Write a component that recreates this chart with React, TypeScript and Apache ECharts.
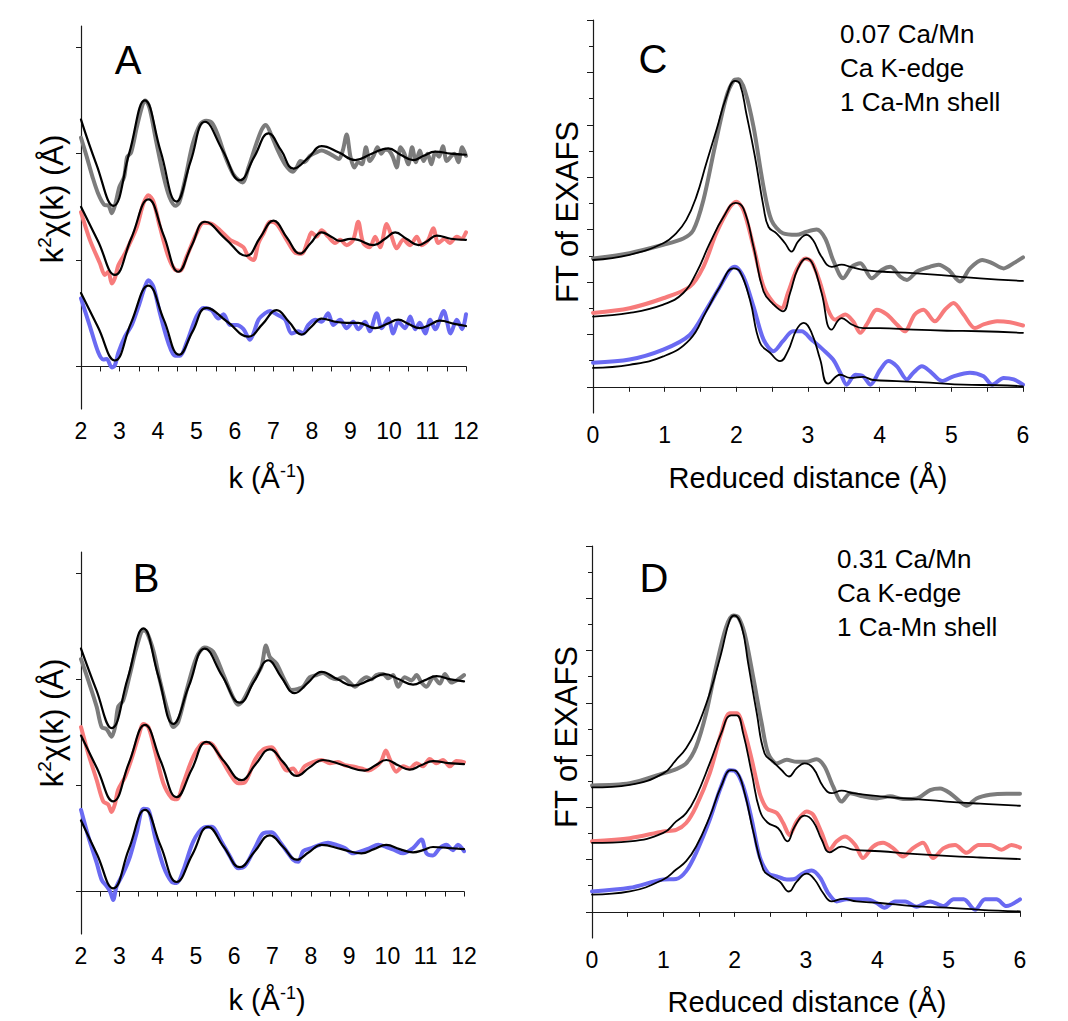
import React, { useEffect, useRef } from "react";
import * as echarts from "echarts";

// ---------- tick values ----------
const kTicks = [2, 2.5, 3, 3.5, 4, 4.5, 5, 5.5, 6, 6.5, 7, 7.5, 8, 8.5, 9, 9.5, 10, 10.5, 11, 11.5, 12];
const kLabels = [2, 3, 4, 5, 6, 7, 8, 9, 10, 11, 12];
const chiTicks = [0, 10, 20, 30];
const rTicks = [0, 0.5, 1, 1.5, 2, 2.5, 3, 3.5, 4, 4.5, 5, 5.5, 6];
const rLabels = [0, 1, 2, 3, 4, 5, 6];
const ftMajor = [0, 10, 20, 30, 40, 50, 60, 70];
const ftMinor = [5, 15, 25, 35, 45, 55, 65];

// ---------- Panel A (0.07 Ca/Mn, k-space) ----------
const aGrayData = [[2.0,21.5],[2.15,19.7],[2.3,17.8],[2.45,16.2],[2.6,15.2],[2.72,15.1],[2.8,14.4],[2.88,15.1],[3.0,16.9],[3.12,17.8],[3.2,19.7],[3.3,20.1],[3.45,22.5],[3.6,24.6],[3.67,25.0],[3.78,24.3],[3.95,21.2],[4.15,17.8],[4.3,15.9],[4.45,15.1],[4.55,15.4],[4.7,17.5],[4.9,20.9],[5.1,22.8],[5.25,23.1],[5.4,22.9],[5.55,21.8],[5.75,19.7],[5.95,18.1],[6.1,17.5],[6.2,17.3],[6.35,18.7],[6.55,20.9],[6.7,22.3],[6.8,22.7],[6.95,21.7],[7.1,20.4],[7.3,19.0],[7.5,18.3],[7.6,18.7],[7.7,19.3],[7.8,19.2],[7.95,19.8],[8.1,20.1],[8.25,20.3],[8.4,20.1],[8.55,19.8],[8.7,19.5],[8.8,20.3],[8.9,21.8],[9.0,19.7],[9.1,18.7],[9.2,19.2],[9.3,19.0],[9.4,20.6],[9.5,19.3],[9.6,19.8],[9.7,20.6],[9.8,20.0],[9.9,20.4],[10.0,20.3],[10.1,19.7],[10.2,18.7],[10.3,20.6],[10.4,20.0],[10.5,19.0],[10.6,20.6],[10.7,19.2],[10.8,20.3],[10.9,19.3],[11.0,20.0],[11.1,19.0],[11.2,20.1],[11.3,19.7],[11.4,20.7],[11.5,19.3],[11.6,19.7],[11.7,20.0],[11.8,19.2],[11.9,20.6],[12.0,19.8]];
const aGrayFit = [[2.0,23.2],[2.4,19.0],[2.84,15.1],[3.25,20.0],[3.66,25.0],[4.07,20.2],[4.48,15.5],[4.85,19.3],[5.22,23.0],[5.68,20.3],[6.13,17.5],[6.5,19.7],[6.87,21.9],[7.2,20.3],[7.52,18.6],[7.9,19.6],[8.25,20.7],[8.7,20.1],[9.12,19.4],[9.55,20.0],[9.98,20.5],[10.3,19.9],[10.63,19.4],[10.9,19.8],[11.2,20.2],[11.6,20.0],[12.0,19.9]];
const aRedData = [[2.0,14.5],[2.23,11.9],[2.49,9.7],[2.62,8.6],[2.71,8.9],[2.8,7.8],[2.88,8.3],[2.97,9.5],[3.14,10.6],[3.27,11.6],[3.45,13.1],[3.62,15.3],[3.75,16.1],[3.88,15.5],[4.05,13.1],[4.27,10.3],[4.44,9.1],[4.57,9.0],[4.74,10.3],[5.0,12.5],[5.18,13.5],[5.39,13.4],[5.61,12.8],[5.87,11.9],[6.04,11.6],[6.22,11.2],[6.35,10.3],[6.48,10.0],[6.61,11.6],[6.74,12.5],[6.91,13.6],[7.08,13.4],[7.34,11.9],[7.56,10.7],[7.73,10.6],[7.9,11.9],[7.99,12.6],[8.12,12.2],[8.25,12.8],[8.42,12.2],[8.6,11.6],[8.73,11.9],[8.9,11.4],[9.07,11.9],[9.2,13.6],[9.33,11.6],[9.5,11.2],[9.64,12.2],[9.77,11.2],[9.94,13.4],[10.07,12.2],[10.2,11.1],[10.37,11.9],[10.55,11.4],[10.72,12.2],[10.85,11.4],[11.02,11.9],[11.15,13.0],[11.28,11.6],[11.45,12.0],[11.58,11.6],[11.76,12.2],[11.88,12.0],[12.0,12.6]];
const aRedFit = [[2.0,15.0],[2.44,11.8],[2.88,8.6],[3.3,12.0],[3.75,15.7],[4.15,12.3],[4.53,8.9],[4.88,11.4],[5.22,13.6],[5.75,12.0],[6.3,10.4],[6.65,12.1],[7.0,13.7],[7.35,12.1],[7.69,10.6],[7.97,11.6],[8.25,12.6],[8.5,12.2],[8.73,11.8],[9.0,12.0],[9.2,11.9],[9.6,11.4],[9.9,12.0],[10.16,12.6],[10.45,12.0],[10.77,11.4],[11.0,11.8],[11.24,12.3],[11.6,12.0],[12.0,11.9]];
const aBlueData = [[2.0,6.4],[2.23,3.8],[2.45,1.3],[2.58,0.65],[2.67,0.7],[2.8,-0.1],[2.88,0.1],[2.97,1.3],[3.14,2.8],[3.32,3.9],[3.49,5.6],[3.66,7.5],[3.75,8.1],[3.88,7.5],[4.05,5.0],[4.27,2.2],[4.44,1.0],[4.57,1.0],[4.74,2.2],[5.0,4.7],[5.18,5.5],[5.39,5.3],[5.57,4.5],[5.7,4.9],[5.87,3.9],[6.04,3.9],[6.22,3.5],[6.39,2.5],[6.48,3.1],[6.61,4.4],[6.78,5.0],[6.91,5.2],[7.08,4.9],[7.3,4.4],[7.47,3.1],[7.65,3.3],[7.77,3.1],[7.9,3.9],[8.08,4.4],[8.25,4.2],[8.42,5.0],[8.55,3.9],[8.73,4.4],[8.9,3.6],[9.07,4.2],[9.2,3.5],[9.38,4.2],[9.5,3.3],[9.68,5.0],[9.81,3.6],[9.98,4.5],[10.11,3.1],[10.24,4.2],[10.42,3.6],[10.55,4.7],[10.68,3.5],[10.8,4.1],[10.94,3.1],[11.07,4.4],[11.2,3.5],[11.42,5.2],[11.6,3.1],[11.76,4.4],[11.9,3.5],[12.0,4.9]];
const aBlueFit = [[2.0,6.9],[2.44,3.7],[2.88,0.56],[3.3,4.1],[3.75,7.6],[4.15,4.4],[4.55,1.1],[4.9,3.3],[5.26,5.5],[5.8,4.2],[6.35,2.8],[6.72,4.0],[7.08,5.3],[7.4,4.2],[7.73,3.0],[8.0,3.8],[8.25,4.5],[8.6,4.2],[8.9,4.1],[9.2,4.1],[9.64,3.6],[9.95,4.0],[10.24,4.4],[10.5,4.0],[10.8,3.6],[11.05,3.9],[11.32,4.3],[11.7,4.0],[12.0,3.8]];

// ---------- Panel B (0.31 Ca/Mn, k-space) ----------
const bGrayData = [[2.0,21.9],[2.19,19.9],[2.41,17.4],[2.54,15.5],[2.67,15.3],[2.8,14.6],[2.89,15.5],[2.97,17.4],[3.1,18.0],[3.28,20.5],[3.45,23.0],[3.63,24.6],[3.71,24.5],[3.89,22.7],[4.06,19.9],[4.28,16.8],[4.41,15.5],[4.54,16.0],[4.76,19.0],[5.02,22.1],[5.23,23.0],[5.45,22.6],[5.71,20.5],[5.97,18.3],[6.1,17.6],[6.23,18.0],[6.5,19.9],[6.71,21.2],[6.83,23.2],[6.93,22.1],[7.1,21.5],[7.32,19.9],[7.5,19.0],[7.67,19.1],[7.8,19.3],[7.97,20.2],[8.15,20.4],[8.32,20.6],[8.5,20.2],[8.67,20.0],[8.84,20.2],[9.02,19.7],[9.15,19.3],[9.32,19.9],[9.45,20.2],[9.58,20.0],[9.71,20.4],[9.89,20.5],[10.02,20.1],[10.15,20.4],[10.28,19.3],[10.45,20.2],[10.63,19.9],[10.76,20.4],[10.89,19.7],[11.02,19.3],[11.2,20.2],[11.37,19.6],[11.5,20.5],[11.67,19.7],[11.85,20.0],[12.0,20.4]];
const bGrayFit = [[2.0,22.9],[2.4,19.0],[2.8,15.4],[3.22,20.1],[3.63,24.8],[4.02,20.3],[4.41,15.8],[4.82,19.4],[5.23,22.9],[5.69,20.3],[6.15,17.8],[6.52,19.8],[6.89,21.8],[7.23,20.2],[7.58,18.7],[7.93,19.7],[8.28,20.7],[8.7,20.0],[9.1,19.4],[9.52,19.9],[9.93,20.5],[10.3,20.0],[10.67,19.5],[10.97,19.9],[11.28,20.3],[11.65,20.0],[12.0,19.8]];
const bRedData = [[2.0,15.5],[2.19,13.0],[2.41,10.5],[2.58,8.5],[2.71,8.2],[2.8,7.5],[2.89,8.3],[2.97,9.6],[3.15,10.8],[3.32,12.5],[3.5,14.6],[3.63,15.8],[3.76,15.5],[3.93,13.3],[4.15,10.2],[4.37,8.8],[4.5,8.7],[4.67,10.2],[4.93,12.7],[5.19,14.0],[5.37,14.0],[5.63,12.7],[5.89,11.1],[6.1,10.2],[6.28,10.3],[6.54,12.4],[6.76,13.4],[6.98,13.6],[7.19,12.4],[7.37,11.4],[7.54,11.6],[7.67,11.0],[7.84,11.8],[8.06,12.2],[8.28,12.4],[8.5,12.1],[8.71,12.2],[8.89,11.9],[9.1,11.8],[9.32,11.6],[9.5,11.4],[9.67,11.7],[9.84,12.3],[9.96,13.3],[10.06,12.5],[10.23,11.3],[10.41,11.8],[10.58,11.6],[10.76,12.1],[10.93,11.8],[11.1,12.5],[11.28,12.1],[11.45,12.4],[11.63,11.8],[11.8,12.3],[12.0,12.2]];
const bRedFit = [[2.0,14.7],[2.42,11.6],[2.84,8.5],[3.25,12.1],[3.67,15.7],[4.08,12.3],[4.5,8.9],[4.89,11.5],[5.28,14.1],[5.73,12.3],[6.19,10.5],[6.56,12.0],[6.93,13.4],[7.28,12.2],[7.63,10.9],[7.97,11.7],[8.32,12.4],[8.85,11.9],[9.41,11.4],[9.69,11.9],[9.97,12.4],[10.28,11.9],[10.58,11.5],[10.88,11.9],[11.19,12.3],[11.6,12.1],[12.0,12.0]];
const bBlueData = [[2.0,7.7],[2.19,5.2],[2.41,2.7],[2.54,1.1],[2.67,0.5],[2.76,0.0],[2.84,-0.8],[2.93,0.5],[3.1,1.7],[3.28,3.3],[3.45,5.5],[3.63,7.8],[3.76,7.7],[3.93,5.2],[4.15,2.4],[4.37,0.9],[4.5,0.8],[4.67,2.0],[4.93,4.7],[5.19,6.0],[5.41,6.1],[5.67,4.7],[5.89,3.3],[6.1,2.2],[6.28,2.4],[6.54,4.1],[6.76,5.5],[6.98,5.6],[7.19,4.7],[7.37,3.8],[7.54,3.0],[7.67,2.8],[7.8,3.8],[8.02,4.1],[8.23,4.4],[8.45,4.6],[8.67,4.4],[8.89,4.1],[9.1,3.6],[9.32,3.8],[9.54,4.1],[9.76,4.4],[9.97,4.2],[10.19,3.9],[10.41,3.6],[10.67,4.1],[10.89,4.9],[11.02,3.6],[11.19,3.4],[11.37,4.1],[11.54,4.4],[11.71,3.9],[11.84,4.4],[12.0,3.8]];
const bBlueFit = [[2.0,6.7],[2.42,3.5],[2.84,0.3],[3.25,4.0],[3.67,7.7],[4.08,4.3],[4.5,0.9],[4.91,3.5],[5.32,6.1],[5.73,4.2],[6.15,2.3],[6.54,3.8],[6.93,5.3],[7.28,4.2],[7.63,3.0],[7.95,3.7],[8.28,4.4],[8.8,4.0],[9.32,3.6],[9.65,4.0],[9.97,4.4],[10.32,4.0],[10.67,3.7],[10.93,3.9],[11.19,4.2],[11.6,4.1],[12.0,4.0]];

// ---------- Panel C (0.07 Ca/Mn, R-space) ----------
const cGrayData = [[0,24.5],[0.51,25.5],[0.98,27.1],[1.26,28.3],[1.4,29.9],[1.54,35.6],[1.7,45.8],[1.86,55.3],[1.96,58.4],[2.03,58.7],[2.12,56.5],[2.24,49.6],[2.38,38.1],[2.49,31.8],[2.65,29.3],[2.84,29.0],[2.98,29.6],[3.12,30.0],[3.24,28.3],[3.35,24.2],[3.49,20.7],[3.61,22.9],[3.73,23.6],[3.89,20.7],[4.03,22.3],[4.15,22.9],[4.29,21.0],[4.38,20.4],[4.52,22.0],[4.7,22.9],[4.82,23.3],[4.96,22.3],[5.12,20.1],[5.26,22.6],[5.43,24.2],[5.57,23.6],[5.73,22.6],[5.87,23.6],[6.0,24.7]];
const cGrayFit = [[0,24.2],[0.51,25.2],[0.98,27.4],[1.16,29.3],[1.3,31.8],[1.44,36.2],[1.58,42.6],[1.72,48.9],[1.86,55.3],[1.98,58.4],[2.05,57.8],[2.14,52.1],[2.26,43.9],[2.38,34.3],[2.45,30.5],[2.56,29.3],[2.68,27.4],[2.77,25.8],[2.86,27.7],[2.98,29.0],[3.07,28.0],[3.19,24.8],[3.33,22.9],[3.47,23.3],[3.59,22.9],[3.77,22.3],[4.0,22.0],[4.47,21.7],[4.94,21.2],[5.4,20.7],[6.0,20.2]];
const cRedData = [[0,14.1],[0.51,15.0],[0.98,16.9],[1.35,19.1],[1.54,22.9],[1.72,29.3],[1.91,34.3],[2.0,35.3],[2.1,33.7],[2.24,26.7],[2.38,19.1],[2.52,16.0],[2.63,15.0],[2.72,17.9],[2.84,22.3],[2.96,24.5],[3.05,23.9],[3.17,19.8],[3.28,14.7],[3.38,12.8],[3.52,13.8],[3.63,12.5],[3.73,10.3],[3.82,11.9],[3.96,14.7],[4.1,13.8],[4.24,11.9],[4.35,10.6],[4.49,13.8],[4.61,14.7],[4.77,12.5],[4.91,14.7],[5.03,16.0],[5.17,13.8],[5.33,11.2],[5.45,11.9],[5.64,12.5],[5.82,12.3],[6.0,11.7]];
const cRedFit = [[0,13.4],[0.51,14.1],[0.98,15.7],[1.26,17.9],[1.44,21.7],[1.63,27.4],[1.82,32.4],[1.99,35.1],[2.1,34.0],[2.24,26.7],[2.38,18.2],[2.52,15.7],[2.65,14.4],[2.75,17.9],[2.86,22.6],[2.98,24.5],[3.07,23.3],[3.19,17.9],[3.33,10.9],[3.47,13.1],[3.61,11.9],[3.77,11.2],[4.0,11.2],[4.47,10.9],[4.94,10.7],[5.4,10.6],[6.0,10.3]];
const cBlueData = [[0,4.6],[0.51,5.2],[0.98,7.1],[1.35,9.9],[1.58,14.7],[1.77,19.1],[1.91,22.3],[1.98,22.9],[2.1,21.0],[2.24,15.3],[2.38,9.0],[2.52,6.8],[2.65,8.7],[2.79,10.6],[2.91,10.6],[3.05,9.0],[3.21,7.1],[3.35,5.2],[3.45,2.7],[3.54,0.4],[3.66,2.3],[3.77,2.0],[3.87,0.4],[4.01,3.3],[4.12,4.9],[4.24,3.9],[4.38,1.4],[4.47,2.7],[4.59,3.9],[4.7,3.0],[4.87,1.1],[5.03,2.0],[5.26,2.7],[5.45,2.0],[5.57,0.4],[5.73,1.7],[5.87,1.4],[6.0,0.4]];
const cBlueFit = [[0,3.6],[0.51,4.2],[0.98,5.8],[1.35,9.0],[1.58,14.4],[1.77,19.1],[1.96,22.6],[2.05,22.0],[2.19,16.6],[2.33,8.4],[2.47,6.5],[2.61,4.9],[2.72,6.8],[2.84,10.9],[2.94,12.2],[3.05,10.3],[3.17,5.2],[3.28,0.6],[3.45,2.3],[3.59,1.7],[3.77,1.9],[3.91,1.3],[4.24,1.1],[4.7,0.8],[5.17,0.4],[5.64,0.3],[6.0,0.1]];

// ---------- Panel D (0.31 Ca/Mn, R-space) ----------
const dGrayData = [[0,24.2],[0.53,24.6],[1.0,26.5],[1.18,27.3],[1.32,28.4],[1.46,31.6],[1.6,38.0],[1.74,46.9],[1.88,54.5],[1.98,56.7],[2.05,56.4],[2.14,53.2],[2.26,44.9],[2.38,36.0],[2.47,30.3],[2.59,28.4],[2.73,29.1],[2.87,28.7],[3.01,28.7],[3.15,29.2],[3.26,27.8],[3.38,24.0],[3.5,21.1],[3.62,22.7],[3.8,22.1],[3.99,21.7],[4.18,22.1],[4.36,21.6],[4.55,21.7],[4.74,23.3],[4.88,23.6],[5.02,22.7],[5.16,21.1],[5.25,20.3],[5.39,21.7],[5.58,22.4],[5.81,22.6],[6.0,22.6]];
const dGrayFit = [[0,23.8],[0.53,24.3],[1.0,26.5],[1.18,29.1],[1.32,31.3],[1.46,34.8],[1.65,41.8],[1.81,49.4],[1.93,55.8],[2.0,56.7],[2.1,54.5],[2.19,47.5],[2.31,38.0],[2.42,30.3],[2.54,28.7],[2.66,27.1],[2.76,25.9],[2.87,27.5],[2.98,28.4],[3.1,27.5],[3.24,24.0],[3.36,22.7],[3.5,23.2],[3.66,22.7],[4.04,22.1],[4.5,21.6],[4.97,21.1],[5.44,20.7],[6.0,20.3]];
const dRedData = [[0,13.5],[0.53,14.1],[1.0,15.4],[1.18,15.7],[1.32,17.0],[1.46,20.2],[1.65,26.5],[1.81,34.1],[1.93,38.0],[2.03,38.0],[2.12,35.4],[2.24,29.1],[2.35,22.7],[2.45,19.8],[2.59,18.9],[2.68,17.0],[2.77,14.7],[2.87,17.3],[3.01,19.2],[3.1,18.6],[3.22,15.1],[3.33,11.9],[3.43,13.5],[3.55,14.4],[3.69,12.8],[3.8,10.3],[3.94,12.5],[4.08,13.2],[4.22,12.2],[4.36,10.6],[4.5,12.2],[4.64,13.2],[4.78,10.3],[4.93,12.2],[5.09,12.8],[5.25,11.3],[5.42,12.8],[5.58,12.8],[5.74,11.9],[5.88,12.8],[6.0,12.3]];
const dRedFit = [[0,13.2],[0.53,13.5],[1.0,15.1],[1.18,17.3],[1.32,18.9],[1.46,22.1],[1.65,28.4],[1.81,34.1],[1.95,37.6],[2.03,37.6],[2.12,34.1],[2.24,26.5],[2.35,19.5],[2.46,17.1],[2.61,16.0],[2.74,13.5],[2.84,16.3],[2.98,18.4],[3.1,17.3],[3.22,13.8],[3.33,11.4],[3.5,12.5],[3.66,11.9],[4.04,11.6],[4.5,11.1],[4.97,10.7],[5.44,10.4],[6.0,10.1]];
const dBlueData = [[0,3.9],[0.53,4.6],[1.0,6.2],[1.18,6.3],[1.32,7.8],[1.46,11.3],[1.65,17.6],[1.81,24.0],[1.93,27.1],[2.0,27.0],[2.12,24.0],[2.24,17.6],[2.35,10.6],[2.47,7.4],[2.59,6.8],[2.73,6.2],[2.84,6.3],[2.96,7.4],[3.08,7.9],[3.2,6.5],[3.31,3.6],[3.43,2.0],[3.57,2.4],[3.71,2.4],[3.85,2.4],[3.99,1.7],[4.1,0.8],[4.25,2.0],[4.39,2.0],[4.55,1.0],[4.74,2.0],[4.93,1.1],[5.07,2.4],[5.21,2.4],[5.37,0.4],[5.51,2.4],[5.67,2.4],[5.81,1.1],[6.0,2.4]];
const dBlueFit = [[0,3.3],[0.53,3.9],[1.0,6.2],[1.18,8.1],[1.32,9.7],[1.46,12.5],[1.65,18.2],[1.81,24.0],[1.95,27.1],[2.03,26.8],[2.14,22.7],[2.26,15.4],[2.4,8.1],[2.49,6.9],[2.63,5.8],[2.76,3.9],[2.87,5.8],[3.01,7.3],[3.12,6.2],[3.24,3.6],[3.36,2.0],[3.52,2.5],[3.71,2.0],[4.04,1.7],[4.5,1.1],[4.97,0.8],[5.44,0.4],[6.0,0.1]];

const FONT = '"Liberation Sans", Arial, Helvetica, sans-serif';
const AXC = "#1a1a1a";
const GRAY = "#7c7c7c";
const RED = "#f77b7b";
const BLUE = "#6a6af2";

export default function App() {
  const ref = useRef<HTMLDivElement>(null);
  useEffect(() => {
    if (!ref.current) return;
    const chart = echarts.init(ref.current, undefined, { renderer: "svg" });

    const kAxis = (gridIndex: number) => ({
      type: "value", gridIndex, min: 2, max: 12,
      axisLine: { show: true, lineStyle: { color: AXC, width: 1.2 } },
      axisTick: { show: true, customValues: kTicks, length: 5, lineStyle: { color: AXC } },
      axisLabel: { customValues: kLabels, fontSize: 23, color: "#000", fontFamily: FONT, margin: 10 },
      splitLine: { show: false },
    });
    const rAxis = (gridIndex: number) => ({
      type: "value", gridIndex, min: 0, max: 6,
      axisLine: { show: true, lineStyle: { color: AXC, width: 1.2 } },
      axisTick: { show: true, customValues: rTicks, length: 5, lineStyle: { color: AXC } },
      axisLabel: { customValues: rLabels, fontSize: 23, color: "#000", fontFamily: FONT, margin: 10 },
      splitLine: { show: false },
    });
    const chiAxis = (gridIndex: number) => ({
      type: "value", gridIndex, min: -4, max: 32, position: "left",
      axisLine: { show: true, lineStyle: { color: AXC, width: 1.2 } },
      axisTick: { show: true, customValues: chiTicks, length: 5, lineStyle: { color: AXC } },
      axisLabel: { show: false },
      splitLine: { show: false },
    });
    const ftAxis = (gridIndex: number, vals: number[], len: number, line: boolean) => ({
      type: "value", gridIndex, min: -5, max: 70, position: "left", offset: 0,
      axisLine: { show: line, lineStyle: { color: AXC, width: 1.2 } },
      axisTick: { show: true, customValues: vals, length: len, lineStyle: { color: AXC } },
      axisLabel: { show: false },
      splitLine: { show: false },
    });

    const dataLine = (x: number, y: number, data: number[][], color: string) => ({
      type: "line", xAxisIndex: x, yAxisIndex: y, data, showSymbol: false, smooth: 0.3,
      lineStyle: { color, width: 4, cap: "round", join: "round" }, z: 2, silent: true,
    });
    const fitLine = (x: number, y: number, data: number[][], w: number) => ({
      type: "line", xAxisIndex: x, yAxisIndex: y, data, showSymbol: false, smooth: 0.45,
      lineStyle: { color: "#000", width: w, cap: "round", join: "round" }, z: 3, silent: true,
    });

    const txt = (x: number, y: number, text: string, size: number, extra: any = {}) => ({
      type: "text", x, y, silent: true, ...extra,
      style: { text, fontSize: size, fontFamily: FONT, fill: "#000", align: "center", verticalAlign: "middle", ...(extra.style || {}) },
    });

    const supRich = {
      n: { fontSize: 29, fontFamily: FONT, fill: "#000" },
      s: { fontSize: 18, fontFamily: FONT, fill: "#000", padding: [0, 0, 15, 0] },
    };
    const supRichY = {
      n: { fontSize: 31, fontFamily: FONT, fill: "#000" },
      s: { fontSize: 19, fontFamily: FONT, fill: "#000", padding: [0, 0, 16, 0] },
    };

    const option: any = {
      animation: false,
      backgroundColor: "#ffffff",
      grid: [
        { left: 81, top: 26, width: 385, height: 383 },
        { left: 81, top: 552, width: 383, height: 382 },
        { left: 593, top: 20, width: 430, height: 393 },
        { left: 592, top: 546, width: 428, height: 392 },
      ],
      xAxis: [kAxis(0), kAxis(1), rAxis(2), rAxis(3)],
      yAxis: [
        chiAxis(0), chiAxis(1),
        ftAxis(2, ftMajor, 6, true), ftAxis(2, ftMinor, 4, false),
        ftAxis(3, ftMajor, 6, true), ftAxis(3, ftMinor, 4, false),
      ],
      series: [
        dataLine(0, 0, aGrayData, GRAY), dataLine(0, 0, aRedData, RED), dataLine(0, 0, aBlueData, BLUE),
        fitLine(0, 0, aGrayFit, 2.2), fitLine(0, 0, aRedFit, 2.2), fitLine(0, 0, aBlueFit, 2.2),
        dataLine(1, 1, bGrayData, GRAY), dataLine(1, 1, bRedData, RED), dataLine(1, 1, bBlueData, BLUE),
        fitLine(1, 1, bGrayFit, 2.2), fitLine(1, 1, bRedFit, 2.2), fitLine(1, 1, bBlueFit, 2.2),
        dataLine(2, 2, cGrayData, GRAY), dataLine(2, 2, cRedData, RED), dataLine(2, 2, cBlueData, BLUE),
        fitLine(2, 2, cGrayFit, 1.8), fitLine(2, 2, cRedFit, 1.8), fitLine(2, 2, cBlueFit, 1.8),
        dataLine(3, 4, dGrayData, GRAY), dataLine(3, 4, dRedData, RED), dataLine(3, 4, dBlueData, BLUE),
        fitLine(3, 4, dGrayFit, 1.8), fitLine(3, 4, dRedFit, 1.8), fitLine(3, 4, dBlueFit, 1.8),
      ],
      graphic: [
        txt(128, 60, "A", 40),
        txt(146, 578, "B", 40),
        txt(653, 59, "C", 40),
        txt(654, 578, "D", 40),
        txt(840, 34, "0.07 Ca/Mn", 26, { style: { align: "left" } }),
        txt(840, 68, "Ca K-edge", 26, { style: { align: "left" } }),
        txt(840, 102, "1 Ca-Mn shell", 26, { style: { align: "left" } }),
        txt(837, 559, "0.31 Ca/Mn", 26, { style: { align: "left" } }),
        txt(837, 593, "Ca K-edge", 26, { style: { align: "left" } }),
        txt(837, 627, "1 Ca-Mn shell", 26, { style: { align: "left" } }),
        txt(267, 478, "", 29, { style: { text: "{n|k (Å}{s|-1}{n|)}", rich: supRich } }),
        txt(267, 1000, "", 29, { style: { text: "{n|k (Å}{s|-1}{n|)}", rich: supRich } }),
        txt(52, 199, "", 31, { rotation: Math.PI / 2, style: { text: "{n|k}{s|2}{n|χ(k) (Å)}", rich: supRichY } }),
        txt(52, 723, "", 31, { rotation: Math.PI / 2, style: { text: "{n|k}{s|2}{n|χ(k) (Å)}", rich: supRichY } }),
        txt(808, 478, "Reduced distance (Å)", 29),
        txt(807, 1002, "Reduced distance (Å)", 29),
        txt(567, 212, "FT of EXAFS", 31, { rotation: Math.PI / 2 }),
        txt(566, 737, "FT of EXAFS", 31, { rotation: Math.PI / 2 }),
      ],
    };
    chart.setOption(option);
    return () => chart.dispose();
  }, []);
  return <div ref={ref} style={{ position: "absolute", left: 0, top: 0, width: 1068, height: 1021 }} />;
}
